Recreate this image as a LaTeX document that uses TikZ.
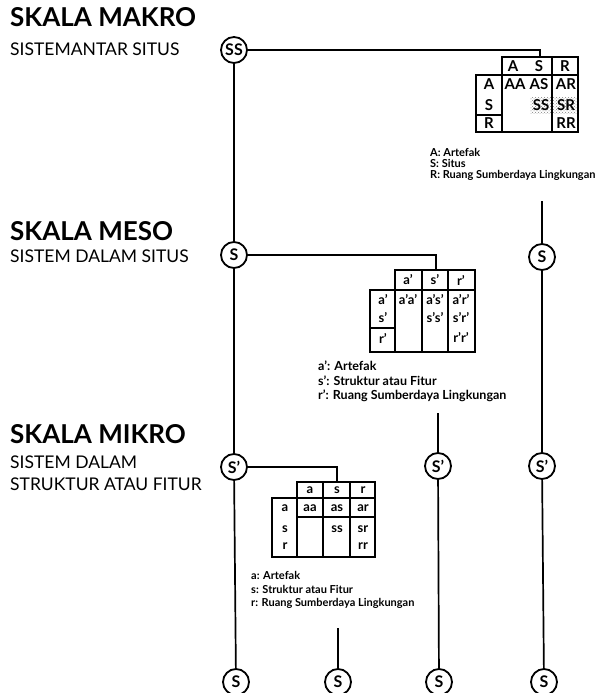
\documentclass[tikz,border=0pt]{standalone}
\usepackage{fontspec}
\setmainfont{Lato}
\usetikzlibrary{positioning,patterns}

\tikzset{
  simpul/.style={draw, circle, line width=1.8pt, minimum size=26pt, inner sep=0pt,
    fill=white, font=\bfseries\fontsize{16}{16}\selectfont},
  judul/.style={anchor=base west, inner sep=0pt, font=\bfseries\fontsize{26}{26}\selectfont},
  subjudul/.style={anchor=base west, inner sep=0pt, font=\fontsize{17.5}{17.5}\selectfont},
  ket/.style={anchor=west, inner sep=0pt, font=\bfseries\fontsize{11}{11}\selectfont},
  sel/.style={inner sep=0pt, font=\bfseries\fontsize{15}{15}\selectfont},
  selkecil/.style={inner sep=0pt, font=\bfseries\fontsize{13}{13}\selectfont},
  garis/.style={line width=1.7pt},
  tabel/.style={line width=1.5pt}
}

\begin{document}
\begin{tikzpicture}[x=1pt,y=-1pt]
  \useasboundingbox (0,0) rectangle (604,693);

  \node[judul] (makro) at (10,27) {SKALA MAKRO};
  \node[subjudul] (makrosub) at (10,56) {SISTEMANTAR SITUS};
  \node[judul] (meso) at (10,240) {SKALA MESO};
  \node[subjudul] (mesosub) at (10,262) {SISTEM DALAM SITUS};
  \node[judul] (mikro) at (10,443) {SKALA MIKRO};
  \node[subjudul] (mikrosub1) at (10,468) {SISTEM DALAM};
  \node[subjudul] (mikrosub2) at (10,490) {STRUKTUR ATAU FITUR};

  \node[simpul] (ss) at (234,50) {SS};
  \node[simpul] (s1) at (234,255) {S};
  \node[simpul] (s4) at (542,257) {S};
  \node[simpul] (t1) at (234,467) {S’};
  \node[simpul] (t3) at (438,466) {S’};
  \node[simpul] (t4) at (542,466) {S’};
  \node[simpul] (b1) at (236,682) {S};
  \node[simpul] (b2) at (338,682) {S};
  \node[simpul] (b3) at (439,682) {S};
  \node[simpul] (b4) at (544,682) {S};

  \coordinate (tmakro) at (540,57);
  \coordinate (tmeso) at (436,270);
  \coordinate (tmikro) at (337,482);
  \coordinate (a4) at (542,201);
  \coordinate (a3) at (438,413);
  \coordinate (a2) at (338,628);

  \draw[garis] (ss.east) -- (ss.east -| tmakro) -- (tmakro);
  \draw[garis] (s1.east) -- (s1.east -| tmeso) -- (tmeso);
  \draw[garis] (t1.east) -- (t1.east -| tmikro) -- (tmikro);
  \draw[garis] (ss) -- (s1) -- (t1) -- (b1);
  \draw[garis] (a4) -- (s4) -- (t4) -- (b4);
  \draw[garis] (a3) -- (t3) -- (b3);
  \draw[garis] (a2) -- (b2);

  \fill[pattern=crosshatch dots, pattern color=gray] (530,97) rectangle (578,113);
  \draw[tabel] (502,57) rectangle (578,75);
  \draw[tabel] (476,75) rectangle (578,132);
  \draw[tabel] (552,57) -- (552,132);
  \draw[tabel] (502,75) -- (502,132);
  \draw[tabel] (476,115) -- (502,115);
  \foreach \t/\x/\y in {A/513/66, S/539/66, R/565/66, A/489/84, S/489/105, R/489/123,
    AA/515/84, AS/539/84, AR/566/84, SS/541/105, SR/566/105, RR/566/123}
    \node[sel] at (\x,\y) {\t};
  \node[ket] (kA) at (430,152) {A: Artefak};
  \node[ket] (kS) at (430,163.5) {S: Situs};
  \node[ket] (kR) at (430,175) {R: Ruang Sumberdaya Lingkungan};

  \draw[tabel] (395,270) rectangle (475,290);
  \draw[tabel] (370,290) rectangle (475,352);
  \draw[tabel] (422,270) -- (422,352);
  \draw[tabel] (448,270) -- (448,352);
  \draw[tabel] (395,290) -- (395,352);
  \draw[tabel] (370,328) -- (395,328);
  \foreach \t/\x/\y in {a’/408/280, s’/435/280, r’/461/280, a’/383/300, s’/383/318, r’/383/338,
    a’a’/408/300, a’s’/435/300, a’r’/461/300, s’s’/435/318, s’r’/461/318, r’r’/461/337}
    \node[selkecil] at (\x,\y) {\t};
  \node[ket, font=\bfseries\fontsize{12.5}{12.5}\selectfont] (ka1) at (318,366) {a’: Artefak};
  \node[ket, font=\bfseries\fontsize{12.5}{12.5}\selectfont] (ks1) at (318,381) {s’: Struktur atau Fitur};
  \node[ket, font=\bfseries\fontsize{12.5}{12.5}\selectfont] (kr1) at (318,396) {r’: Ruang Sumberdaya Lingkungan};

  \draw[tabel] (297,482) rectangle (375,498);
  \draw[tabel] (272,498) rectangle (375,557);
  \draw[tabel] (323,482) -- (323,557);
  \draw[tabel] (350,482) -- (350,557);
  \draw[tabel] (297,498) -- (297,557);
  \draw[tabel] (297,517) -- (375,517);
  \foreach \t/\x/\y in {a/310/490, s/337/490, r/363/490, a/285/508, s/285/529, r/285/546,
    aa/310/508, as/337/508, ar/363/508, ss/337/529, sr/363/529, rr/363/546}
    \node[selkecil] at (\x,\y) {\t};
  \node[ket] (ka2) at (251,575) {a: Artefak};
  \node[ket] (ks2) at (251,589) {s: Struktur atau Fitur};
  \node[ket] (kr2) at (251,603) {r: Ruang Sumberdaya Lingkungan};
\end{tikzpicture}
\end{document}
